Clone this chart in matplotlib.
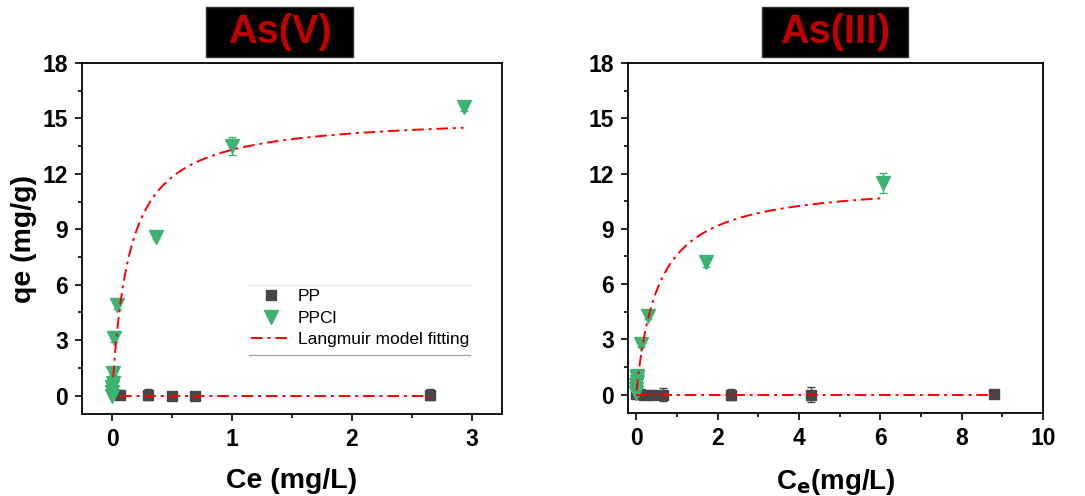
import numpy as np
import matplotlib
matplotlib.use("Agg")
import matplotlib.pyplot as plt
from matplotlib.patches import Rectangle
from matplotlib.lines import Line2D

plt.rcParams['font.family'] = ['Liberation Sans', 'DejaVu Sans']

# Data #######################################################################

# As(V)
v_pp_x = [0.07, 0.30, 0.50, 0.69, 2.65]
v_pp_y = [0.05, 0.05, 0.0, 0.0, 0.05]
v_pp_err = [0.25, 0.30, 0.10, 0.10, 0.30]

v_ppcl_x = [0.0, 0.0, 0.0, 0.005, 0.008, 0.02, 0.04, 0.37, 1.0, 2.93]
v_ppcl_y = [0.0, 0.2, 0.45, 0.7, 1.2, 3.1, 4.9, 8.6, 13.5, 15.6]
v_ppcl_err = [0.1, 0.1, 0.1, 0.1, 0.1, 0.2, 0.2, 0.15, 0.5, 0.2]

v_fit_ppcl = (15.2, 7.0)   # qm, K
v_fit_pp = (0.0, 1.0)

# As(III)
iii_pp_x = [0.0, 0.1, 0.2, 0.4, 0.65, 2.33, 4.30, 8.80]
iii_pp_y = [0.05, 0.05, 0.0, 0.0, 0.0, 0.0, 0.0, 0.05]
iii_pp_err = [0.1, 0.1, 0.1, 0.1, 0.35, 0.30, 0.40, 0.20]

iii_ppcl_x = [0.0, 0.0, 0.0, 0.01, 0.02, 0.03, 0.12, 0.30, 1.71, 6.06]
iii_ppcl_y = [0.1, 0.3, 0.5, 0.7, 0.9, 1.0, 2.75, 4.25, 7.2, 11.5]
iii_ppcl_err = [0.1, 0.1, 0.1, 0.1, 0.15, 0.25, 0.15, 0.15, 0.25, 0.55]

iii_fit_ppcl = (11.6, 1.88)
iii_fit_pp = (0.0, 1.0)

legend_labels = ['PP', 'PPCl', 'Langmuir model fitting']

green = '#3cb371'
grey = '#474747'
red = '#ff0000'
dashdot = (0, (6, 2.5, 1.5, 2.5))


def langmuir(c, qm, k):
    return qm * k * c / (1 + k * c)


def panel(ax, pp, ppcl, fit_pp, fit_ppcl, xlim, xmaj, xmin):
    ax.errorbar(pp[0], pp[1], yerr=pp[2], fmt='s', color=grey, ms=7.5,
                capsize=3, elinewidth=1, zorder=3)
    ax.errorbar(ppcl[0], ppcl[1], yerr=ppcl[2], fmt='v', color=green, ms=10,
                capsize=3, elinewidth=1, zorder=3)
    c = np.linspace(min(ppcl[0]) + 0.01, max(ppcl[0]), 300)
    ax.plot(c, langmuir(c, *fit_ppcl), color=red, ls=dashdot, lw=1.4, zorder=4)
    c2 = np.linspace(min(pp[0]), max(pp[0]), 50)
    ax.plot(c2, langmuir(c2, *fit_pp), color=red, ls=dashdot, lw=1.4, zorder=4)
    ax.set_xlim(*xlim)
    ax.set_ylim(-1, 18)
    ax.set_xticks(xmaj)
    ax.set_xticks(xmin, minor=True)
    ax.set_yticks(np.arange(0, 19, 3))
    ax.set_yticks(np.arange(1.5, 18, 3), minor=True)
    ax.tick_params(which='major', length=5, width=1.2, labelsize=16.5, pad=5)
    ax.tick_params(which='minor', length=3, width=1.2)
    for lab in ax.get_xticklabels() + ax.get_yticklabels():
        lab.set_fontweight('bold')
    for s in ax.spines.values():
        s.set_linewidth(1.3)


fig = plt.figure(figsize=(10.85, 4.96), dpi=100)
ax1 = fig.add_axes([0.0756, 0.1653, 0.387, 0.7077])
ax2 = fig.add_axes([0.5788, 0.1673, 0.3825, 0.7056])

panel(ax1, (v_pp_x, v_pp_y, v_pp_err), (v_ppcl_x, v_ppcl_y, v_ppcl_err),
      v_fit_pp, v_fit_ppcl, (-0.25, 3.25), [0, 1, 2, 3], [0.5, 1.5, 2.5])
panel(ax2, (iii_pp_x, iii_pp_y, iii_pp_err), (iii_ppcl_x, iii_ppcl_y, iii_ppcl_err),
      iii_fit_pp, iii_fit_ppcl, (-0.2, 10), [0, 2, 4, 6, 8, 10], [1, 3, 5, 7, 9])

ax1.set_xlabel('Ce (mg/L)', fontsize=20.5, fontweight='bold', labelpad=12)
ax1.set_ylabel('qe (mg/g)', fontsize=20.5, fontweight='bold', labelpad=4)
ax2.set_xlabel('C$_\\mathbf{e}$(mg/L)', fontsize=20, fontweight='bold', labelpad=12)

handles = [Line2D([], [], marker='s', ls='none', color=grey, ms=7.5),
           Line2D([], [], marker='v', ls='none', color=green, ms=10),
           Line2D([], [], color=red, ls=dashdot, lw=1.4)]
ax1.legend(handles, legend_labels, loc='upper left', bbox_to_anchor=(0.385, 0.375),
           frameon=False, fontsize=12.5, handlelength=2.4, labelspacing=0.35,
           handletextpad=0.3, borderaxespad=0)
ax1.add_line(Line2D([0.398, 0.924], [0.3675, 0.3675], transform=ax1.transAxes,
                    color='#e6e6e6', lw=1, clip_on=False))
ax1.add_line(Line2D([0.398, 0.924], [0.168, 0.168], transform=ax1.transAxes,
                    color='#a8a8a8', lw=1, clip_on=False))

# title boxes
for x0, w, txt in [(206, 147, 'As(V)'), (762, 146, 'As(III)')]:
    fig.add_artist(Rectangle((x0 / 1085, (496 - 57) / 496), w / 1085, 50 / 496,
                             transform=fig.transFigure, facecolor='black',
                             edgecolor='#333333', lw=1))
    fig.text((x0 + w / 2) / 1085, (496 - 32) / 496, txt, color='#c00000',
             fontsize=28.5, fontweight='bold', ha='center', va='center')

fig.savefig('out.png', dpi=100)
